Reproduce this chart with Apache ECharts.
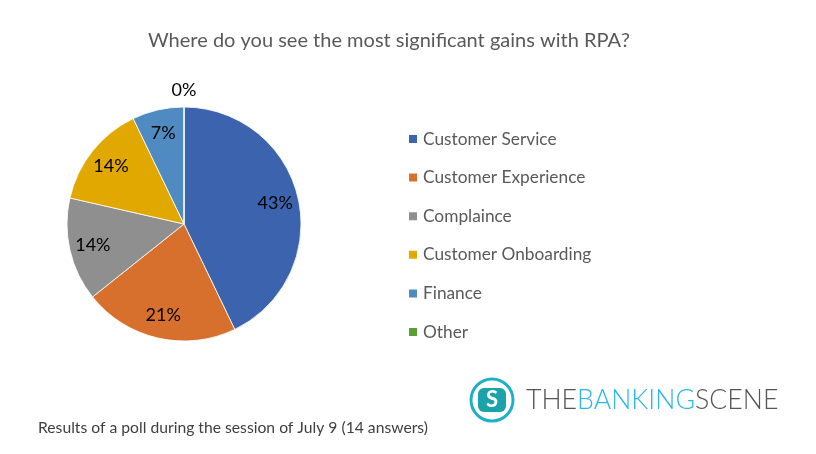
<!DOCTYPE html>
<html><head><meta charset="utf-8">
<script src="https://cdn.jsdelivr.net/npm/echarts@6/dist/echarts.min.js"></script>
<style>html,body{margin:0;padding:0;background:#fff}#c{width:816px;height:454px}</style>
</head><body><div id="c"></div>
<script>
const titleText = 'Where do you see the most significant gains with RPA?';
const footnote = 'Results of a poll during the session of July 9 (14 answers)';
const categories = ['Customer Service','Customer Experience','Complaince','Customer Onboarding','Finance','Other'];
const answers = [6, 3, 2, 2, 1, 0];
const colors = ['#3C64AE','#D6702C','#8F8F8F','#E0A800','#4F8BC1','#5E9C3A'];

const FONT = 'Lato';
const data = categories.map((n,i)=>({name:n, value:answers[i], itemStyle:{color:colors[i]}}));
const pct = p => Math.round(p.percent) + '%';
const chart = echarts.init(document.getElementById('c'));
chart.setOption({
  animation:false,
  backgroundColor:'#fff',
  title:{text:titleText, left:143, top:26, textStyle:{fontFamily:FONT, fontSize:20, fontWeight:'normal', color:'#595959'}},
  legend:{orient:'vertical', left:402, top:125, itemWidth:10, itemHeight:10, itemGap:20.6, icon:'rect',
    data:categories, textStyle:{fontFamily:FONT, fontSize:17.3, color:'#595959', height:18, lineHeight:18}},
  series:[
    {type:'pie', center:[184,224], radius:[0,117], startAngle:90, clockwise:true, silent:true,
     data:data, label:{show:false}, labelLine:{show:false},
     itemStyle:{borderColor:'#fff', borderWidth:0.8}},
    {type:'pie', center:[184,224], radius:[64,117], startAngle:90, clockwise:true, silent:true,
     data:data.map(d=>({name:d.name, value:d.value, itemStyle:{color:'rgba(0,0,0,0)'}})),
     legendHoverLink:false,
     label:{show:true, position:'inside', formatter:p=>p.value>0?pct(p):'', fontFamily:FONT, fontSize:18, color:'#000'},
     labelLine:{show:false}},
    {type:'pie', center:[184,224], radius:[117,145], startAngle:90, clockwise:true, silent:true,
     data:data.map(d=>({name:d.name, value:d.value, itemStyle:{color:'rgba(0,0,0,0)'}})),
     label:{show:true, position:'inside', formatter:p=>p.value===0?pct(p):'', fontFamily:FONT, fontSize:18, color:'#000'},
     labelLine:{show:false}}
  ],
  graphic:[
    {type:'text', left:38, top:420, style:{text:footnote, font:'15.7px '+FONT, fill:'#404040'}},
    {type:'circle', shape:{cx:492, cy:400, r:21}, style:{fill:'none', stroke:'#1FB0C8', lineWidth:3}},
    {type:'rect', shape:{x:478, y:388, width:28, height:24, r:6}, style:{fill:'#1AA3A8'}},
    {type:'text', x:492, y:400, style:{text:'S', font:'bold 22px '+FONT, fill:'#fff', align:'center', verticalAlign:'middle'}},
    {type:'text', left:526, top:387, style:{rich:{a:{fontFamily:FONT, fontSize:26.7, fontWeight:300, fill:'#555'}, b:{fontFamily:FONT, fontSize:26.7, fontWeight:300, fill:'#2BB7E6'}}, text:'{a|THE}{b|BANKING}{a|SCENE}'}}
  ]
});
</script></body></html>
